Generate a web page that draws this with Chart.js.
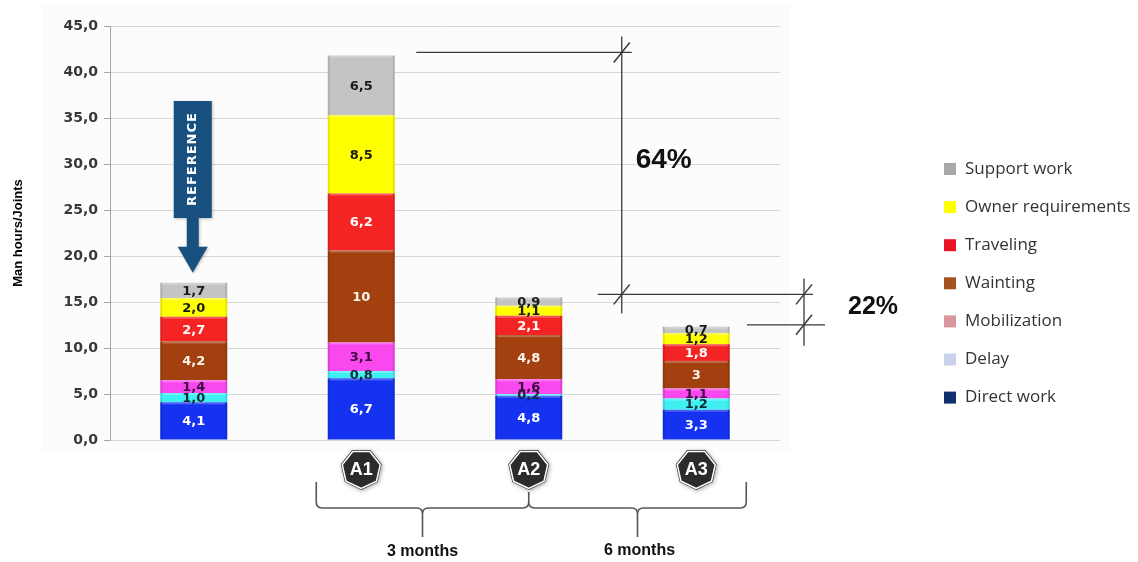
<!DOCTYPE html>
<html>
<head>
<meta charset="utf-8">
<script src="https://cdn.jsdelivr.net/npm/chart.js@4/dist/chart.umd.min.js"></script>
<style>
  html, body { margin: 0; padding: 0; background: #ffffff; }
  #wrap { width: 1138px; height: 562px; position: relative; }
</style>
</head>
<body>
<div id="wrap"><canvas id="c" width="1138" height="562"></canvas></div>
<script>
// Categories: the reference crew and the three follow-up assessments
const categories = ['Reference', 'A1', 'A2', 'A3'];
const badgeLabels = ['', 'A1', 'A2', 'A3'];

// Man hours per joint, written as they are printed on the bars (stack order bottom -> top)
const directWork        = ['4,1', '6,7', '4,8', '3,3'];
const delay             = ['1,0', '0,8', '0,2', '1,2'];
const mobilization      = ['1,4', '3,1', '1,6', '1,1'];
const waiting           = ['4,2', '10',  '4,8', '3'];
const traveling         = ['2,7', '6,2', '2,1', '1,8'];
const ownerRequirements = ['2,0', '8,5', '1,1', '1,2'];
const supportWork       = ['1,7', '6,5', '0,9', '0,7'];

// Axis
const yMax = 45;
const yStep = 5;

// Side notes
const reductionLabels = ['64%', '22%'];
const periodLabels = ['3 months', '6 months'];

const num = s => parseFloat(s.replace(',', '.'));

const seriesDefs = [
  { label: 'Direct work',        texts: directWork,        color: '#1432f0', legend: '#13306e', text: '#ffffff' },
  { label: 'Delay',              texts: delay,             color: '#3ef0f2', legend: '#c9d2e8', text: '#0b2a33' },
  { label: 'Mobilization',       texts: mobilization,      color: '#f848ee', legend: '#d9979d', text: '#3a0a40' },
  { label: 'Wainting',           texts: waiting,           color: '#a2410f', legend: '#a4521f', text: '#fff6ea' },
  { label: 'Traveling',          texts: traveling,         color: '#f52424', legend: '#ea1325', text: '#ffffff' },
  { label: 'Owner requirements', texts: ownerRequirements, color: '#ffff00', legend: '#ffff00', text: '#1a1a1a' },
  { label: 'Support work',       texts: supportWork,       color: '#c4c4c4', legend: '#a8a8a8', text: '#1a1a1a' }
];

const datasets = seriesDefs.map(d => ({
  label: d.label,
  data: d.texts.map(num),
  valueTexts: d.texts,
  textColor: d.text,
  legendColor: d.legend,
  backgroundColor: d.color,
  borderWidth: 0,
  barPercentage: 0.4,
  categoryPercentage: 1.0,
  stack: 'all'
}));

const fmtTick = v => v.toFixed(1).replace('.', ',');

// Very light panel behind the plot
const panelPlugin = {
  id: 'panel',
  beforeDraw(chart) {
    const ctx = chart.ctx;
    ctx.save();
    ctx.fillStyle = '#ffffff';
    ctx.fillRect(0, 0, chart.width, chart.height);
    ctx.fillStyle = '#fcfcfc';
    ctx.fillRect(42, 5, chart.chartArea.right + 10 - 42, 447);
    ctx.restore();
  }
};

// Value printed in the middle of every segment, with a soft bevel on the segment edges
const valueLabelPlugin = {
  id: 'valueLabels',
  afterDatasetsDraw(chart) {
    const ctx = chart.ctx;
    ctx.save();
    chart.data.datasets.forEach((ds, di) => {
      const meta = chart.getDatasetMeta(di);
      meta.data.forEach(el => {
        const left = el.x - el.width / 2;
        const top = Math.min(el.y, el.base);
        const h = Math.abs(el.base - el.y);
        ctx.fillStyle = 'rgba(0,0,0,0.10)';
        ctx.fillRect(left, top, 2, h);
        ctx.fillRect(left + el.width - 2, top, 2, h);
        ctx.fillStyle = 'rgba(255,255,255,0.25)';
        ctx.fillRect(left + 2, top, el.width - 4, Math.min(2, h));
      });
    });
    ctx.font = 'bold 13px "DejaVu Sans", sans-serif';
    ctx.textAlign = 'center';
    ctx.textBaseline = 'middle';
    chart.data.datasets.forEach((ds, di) => {
      const meta = chart.getDatasetMeta(di);
      meta.data.forEach((el, i) => {
        const cy = (el.y + el.base) / 2;
        ctx.fillStyle = ds.textColor;
        ctx.fillText(ds.valueTexts[i], el.x, cy + 1);
      });
    });
    ctx.restore();
  }
};

function heptagon(ctx, cx, cy, r) {
  ctx.beginPath();
  for (let k = 0; k < 7; k++) {
    const a = Math.PI / 2 + k * 2 * Math.PI / 7;
    const x = cx + r * Math.cos(a);
    const y = cy + r * Math.sin(a);
    if (k === 0) ctx.moveTo(x, y); else ctx.lineTo(x, y);
  }
  ctx.closePath();
}

function slash(ctx, x, y) {
  ctx.beginPath();
  ctx.moveTo(x - 8, y + 10);
  ctx.lineTo(x + 8, y - 10);
  ctx.stroke();
}

const decorPlugin = {
  id: 'decor',
  afterDraw(chart) {
    const ctx = chart.ctx;
    const xs = chart.scales.x;
    const ys = chart.scales.y;
    const area = chart.chartArea;
    const totals = categories.map((c, i) =>
      chart.data.datasets.reduce((s, ds) => s + ds.data[i], 0));
    const cx = categories.map((c, i) => xs.getPixelForValue(i));
    ctx.save();

    // REFERENCE arrow above the first bar
    const refTop = ys.getPixelForValue(totals[0]);
    const ax = cx[0] - 1;
    const tip = refTop - 10;
    ctx.fillStyle = '#18507f';
    ctx.shadowColor = 'rgba(0,0,0,0.25)';
    ctx.shadowBlur = 3;
    ctx.shadowOffsetX = 1;
    ctx.shadowOffsetY = 1;
    ctx.beginPath();
    ctx.moveTo(ax - 19, 101);
    ctx.lineTo(ax + 19, 101);
    ctx.lineTo(ax + 19, 218);
    ctx.lineTo(ax + 6, 218);
    ctx.lineTo(ax + 6, tip - 26);
    ctx.lineTo(ax + 15, tip - 26);
    ctx.lineTo(ax, tip);
    ctx.lineTo(ax - 15, tip - 26);
    ctx.lineTo(ax - 6, tip - 26);
    ctx.lineTo(ax - 6, 218);
    ctx.lineTo(ax - 19, 218);
    ctx.closePath();
    ctx.fill();
    ctx.shadowColor = 'transparent';
    ctx.save();
    ctx.translate(ax, 159);
    ctx.rotate(-Math.PI / 2);
    ctx.fillStyle = '#ffffff';
    ctx.font = 'bold 13px "DejaVu Sans", sans-serif';
    ctx.letterSpacing = '1px';
    ctx.textAlign = 'center';
    ctx.textBaseline = 'middle';
    ctx.fillText('REFERENCE', 0, 0);
    ctx.restore();

    // Assessment badges under the bars
    for (let i = 1; i < categories.length; i++) {
      ctx.save();
      ctx.shadowColor = 'rgba(0,0,0,0.35)';
      ctx.shadowBlur = 4;
      ctx.shadowOffsetY = 1;
      heptagon(ctx, cx[i], 469, 21);
      ctx.fillStyle = '#2b2b2b';
      ctx.fill();
      ctx.shadowColor = 'transparent';
      ctx.lineWidth = 1.5;
      ctx.strokeStyle = '#ffffff';
      heptagon(ctx, cx[i], 469, 19.5);
      ctx.stroke();
      ctx.fillStyle = '#ffffff';
      ctx.font = 'bold 18px "Liberation Sans", Arial, sans-serif';
      ctx.textAlign = 'center';
      ctx.textBaseline = 'middle';
      ctx.fillText(badgeLabels[i], cx[i], 470);
      ctx.restore();
    }

    // Braces grouping the periods
    const yb = 508;
    const L = cx[1] - 45, M = cx[2], R = cx[3] + 50;
    const t1 = (L + M) / 2, t2 = (M + R) / 2;
    ctx.strokeStyle = '#555555';
    ctx.lineWidth = 1.6;
    ctx.beginPath();
    ctx.moveTo(L, 482);
    ctx.lineTo(L, yb - 6);
    ctx.quadraticCurveTo(L, yb, L + 6, yb);
    ctx.lineTo(t1 - 6, yb);
    ctx.quadraticCurveTo(t1, yb, t1, yb + 6);
    ctx.lineTo(t1, 537);
    ctx.moveTo(t1, yb + 6);
    ctx.quadraticCurveTo(t1, yb, t1 + 6, yb);
    ctx.lineTo(M - 6, yb);
    ctx.quadraticCurveTo(M, yb, M, yb - 6);
    ctx.lineTo(M, 492);
    ctx.moveTo(M, yb - 6);
    ctx.quadraticCurveTo(M, yb, M + 6, yb);
    ctx.lineTo(t2 - 6, yb);
    ctx.quadraticCurveTo(t2, yb, t2, yb + 6);
    ctx.lineTo(t2, 537);
    ctx.moveTo(t2, yb + 6);
    ctx.quadraticCurveTo(t2, yb, t2 + 6, yb);
    ctx.lineTo(R - 6, yb);
    ctx.quadraticCurveTo(R, yb, R, yb - 6);
    ctx.lineTo(R, 482);
    ctx.stroke();

    ctx.fillStyle = '#111111';
    ctx.font = 'bold 16px "Liberation Sans", Arial, sans-serif';
    ctx.textAlign = 'center';
    ctx.textBaseline = 'middle';
    ctx.fillText(periodLabels[0], t1, 552);
    ctx.fillText(periodLabels[1], t2 + 2, 551);

    // Dimension lines for the reductions
    const yA1 = ys.getPixelForValue(totals[1]) - 3;
    const yA2 = ys.getPixelForValue(totals[2]) - 3;
    const yA3 = ys.getPixelForValue(totals[3]) - 2;
    const v1 = cx[2] + 93;
    const v2 = area.right + 24;
    ctx.strokeStyle = '#3a3a3a';
    ctx.lineWidth = 1.3;
    ctx.beginPath();
    ctx.moveTo(cx[1] + 55, yA1); ctx.lineTo(v1 + 10, yA1);
    ctx.moveTo(v1, yA1 - 16); ctx.lineTo(v1, yA2 + 19);
    ctx.moveTo(v1 - 24, yA2); ctx.lineTo(v2 + 9, yA2);
    ctx.moveTo(v2, yA2 - 16); ctx.lineTo(v2, yA3 + 21);
    ctx.moveTo(v2 - 57, yA3); ctx.lineTo(v2 + 21, yA3);
    ctx.stroke();
    ctx.lineWidth = 1.5;
    slash(ctx, v1, yA1);
    slash(ctx, v1, yA2);
    slash(ctx, v2, yA2);
    slash(ctx, v2, yA3);

    ctx.fillStyle = '#111111';
    ctx.textAlign = 'center';
    ctx.textBaseline = 'middle';
    ctx.font = 'bold 28px "Liberation Sans", Arial, sans-serif';
    ctx.fillText(reductionLabels[0], v1 + 42, 160);
    ctx.font = 'bold 25px "Liberation Sans", Arial, sans-serif';
    ctx.fillText(reductionLabels[1], v2 + 69, 307);

    // Legend, top entry = top of the stack
    const items = chart.data.datasets.slice().reverse();
    ctx.font = '17px "Open Sans", sans-serif';
    ctx.textAlign = 'left';
    ctx.textBaseline = 'middle';
    items.forEach((ds, k) => {
      const y = 169 + k * 38.1;
      ctx.fillStyle = ds.legendColor;
      ctx.fillRect(944, y - 6, 12, 12);
      ctx.fillStyle = '#333333';
      ctx.fillText(ds.label, 965, y);
    });

    ctx.restore();
  }
};

new Chart(document.getElementById('c'), {
  type: 'bar',
  data: { labels: categories, datasets },
  options: {
    responsive: false,
    animation: false,
    devicePixelRatio: 1,
    layout: { padding: { top: 26, right: 358, bottom: 122, left: 0 } },
    plugins: {
      legend: { display: false },
      tooltip: { enabled: false }
    },
    scales: {
      x: {
        display: false,
        stacked: true
      },
      y: {
        stacked: true,
        min: 0,
        max: yMax,
        afterFit: s => { s.width = 110; },
        ticks: {
          stepSize: yStep,
          callback: v => fmtTick(v),
          color: '#383838',
          padding: 6,
          font: { family: '"DejaVu Sans", sans-serif', size: 14, weight: 'bold' }
        },
        grid: {
          color: '#d6d6d6',
          tickColor: '#a6a6a6',
          tickLength: 6,
          lineWidth: 1
        },
        border: { color: '#a6a6a6', width: 1 },
        title: {
          display: true,
          text: 'Man hours/Joints',
          color: '#000000',
          padding: { top: 11, bottom: 0 },
          font: { family: '"Liberation Sans", Arial, sans-serif', size: 13, weight: 'bold' }
        }
      }
    }
  },
  plugins: [panelPlugin, valueLabelPlugin, decorPlugin]
});
</script>
</body>
</html>
